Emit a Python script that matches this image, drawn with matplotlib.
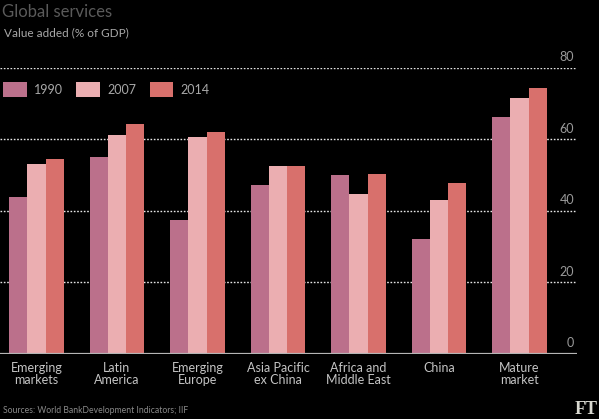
import matplotlib
matplotlib.use("Agg")
import matplotlib.pyplot as plt
import numpy as np

# Données (valeur ajoutée des services, % du PIB)
categories = ["Emerging\nmarkets", "Latin\nAmerica", "Emerging\nEurope", "Asia Pacific\nex China",
              "Africa and\nMiddle East", "China", "Mature\nmarket"]
years = ["1990", "2007", "2014"]
v1990 = [43.9, 55.0, 37.4, 47.2, 50.1, 32.2, 66.1]
v2007 = [53.1, 61.3, 60.6, 52.5, 44.6, 42.9, 71.4]
v2014 = [54.4, 64.3, 62.0, 52.5, 50.4, 47.9, 74.2]
yticks = [0, 20, 40, 60, 80]

colors = ["#bb708b", "#ebaeb1", "#d8706c"]
BG = "#000000"
FONT = ["Lato", "DejaVu Sans"]
plt.rcParams["font.family"] = FONT

fig = plt.figure(figsize=(5.99, 4.19), dpi=100, facecolor=BG)
ax = fig.add_axes([0.0, 0.1556, 0.9633, 0.6828], facecolor=BG)

x = np.arange(len(categories))
w = 0.2275
for i, (vals, col, yr) in enumerate(zip([v1990, v2007, v2014], colors, years)):
    ax.bar(x + (i - 1) * w, vals, width=w, color=col, label=yr, zorder=3, linewidth=0)

ax.set_xlim(-0.453, 6.714)
ax.set_ylim(0, 80)

# grille pointillée
for v in yticks[1:]:
    ax.axhline(v, color="#e6e6e6", lw=1.0, ls=(0, (1.2, 1.2)), zorder=1)
ax.axhline(0, color="#b5b5b5", lw=1.6, zorder=4)

# étiquettes de l'axe y, à droite au-dessus des lignes
ax.set_yticks([])
for v in yticks:
    ax.text(0.995, v + 1.3, str(v), transform=ax.get_yaxis_transform(), ha="right",
            va="bottom", fontsize=9, color="#9a9a9a")

ax.set_xticks(x)
ax.set_xticklabels(categories, fontsize=9, color="#c4c4c4", linespacing=0.95)
ax.tick_params(axis="x", length=0, pad=6)
for s in ax.spines.values():
    s.set_visible(False)

leg = fig.legend(loc="upper left", bbox_to_anchor=(0.005, 1 - 82 / 419), ncol=3, frameon=False,
                 fontsize=9, handlelength=1.9, handleheight=1.5, handletextpad=0.55,
                 columnspacing=1.1, borderpad=0, borderaxespad=0)
for t in leg.get_texts():
    t.set_color("#a8a8a8")

fig.text(0.004, 1 - 12 / 419, "Global services", fontsize=12, color="#5a5a5a", va="center")
fig.text(0.006, 1 - 33 / 419, "Value added (% of GDP)", fontsize=8.5, color="#a8a8a8", va="center")
fig.text(0.005, 1 - 410 / 419, "Sources: World BankDevelopment Indicators; IIF", fontsize=6.2,
         color="#8a8a8a", va="center")
fig.text(0.998, 1 - 409 / 419, "FT", fontsize=13, color="#d8d8d0", va="center", ha="right",
         family="Liberation Serif", weight="bold")

fig.savefig("out.png", dpi=100, facecolor=BG)
